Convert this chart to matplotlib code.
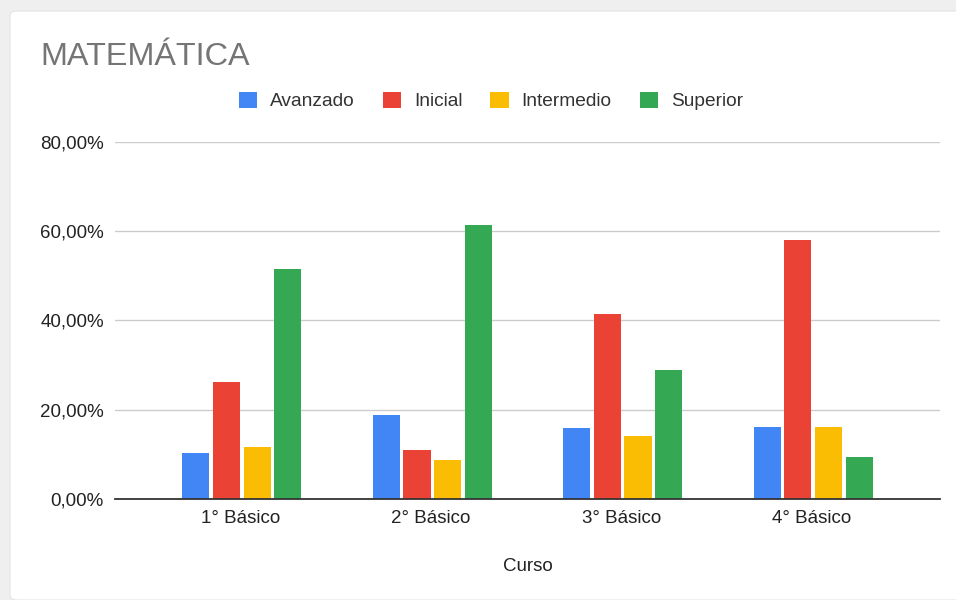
import numpy as np
import matplotlib.pyplot as plt
from matplotlib.patches import FancyBboxPatch
from matplotlib.ticker import FuncFormatter

cursos = ["1° Básico", "2° Básico", "3° Básico", "4° Básico"]
niveles = ["Avanzado", "Inicial", "Intermedio", "Superior"]
avanzado = [10.4, 18.7, 15.9, 16.2]
inicial = [26.3, 10.9, 41.4, 57.9]
intermedio = [11.6, 8.7, 14.0, 16.2]
superior = [51.4, 61.4, 28.8, 9.4]
colores = ["#4285F4", "#EA4335", "#FBBC04", "#34A853"]

plt.rcParams["font.family"] = ["Liberation Sans", "DejaVu Sans"]

W, H = 956, 600
fig = plt.figure(figsize=(W / 100, H / 100), dpi=100, facecolor="#efefef")

# white card behind everything
card = FancyBboxPatch((10 / W, 0), 1.2, 1 - 11 / H, boxstyle="round,pad=0,rounding_size=0.008",
                      transform=fig.transFigure, facecolor="white", edgecolor="#e4e4e4", lw=0.8,
                      zorder=-10)
fig.patches.append(card)

ax = fig.add_axes([115 / W, 1 - 499 / H, (940 - 115) / W, (499 - 141.7) / H])
ax.set_facecolor("none")

x = np.arange(len(cursos))
slot = 30.5 / 190
ancho = 27 / 190
series = [avanzado, inicial, intermedio, superior]
for i, (vals, nombre, c) in enumerate(zip(series, niveles, colores)):
    ax.bar(x + (i - 1.5) * slot + 1.5 / 190, vals, ancho, color=c, label=nombre, zorder=3)

ax.set_ylim(0, 80)
ax.set_xlim(-125 / 190, 3 + 128 / 190)
ax.set_yticks([0, 20, 40, 60, 80])
ax.yaxis.set_major_formatter(FuncFormatter(lambda v, p: f"{v:.2f}%".replace(".", ",")))
ax.set_xticks(x)
ax.set_xticklabels(cursos)
ax.grid(axis="y", color="#cccccc", lw=1, zorder=0)
for s in ["top", "right", "left"]:
    ax.spines[s].set_visible(False)
ax.spines["bottom"].set_color("#333333")
ax.spines["bottom"].set_linewidth(1.3)
ax.spines["bottom"].set_zorder(4)
ax.tick_params(axis="both", length=0, labelsize=13.5, colors="#222222")
ax.tick_params(axis="y", pad=8)
ax.tick_params(axis="x", pad=8)
ax.set_xlabel("Curso", fontsize=13.5, color="#222222", labelpad=22)

fig.text(40 / W, 1 - 57 / H, "MATEMÁTICA", fontsize=23.3, color="#757575", va="center", ha="left")

leg = fig.legend(loc="center", bbox_to_anchor=(491 / W, 1 - 101 / H), ncol=4, frameon=False,
                 fontsize=13.8, handlelength=0.94, handleheight=0.94, handletextpad=0.68,
                 columnspacing=1.46, labelcolor="#333333")

fig.savefig("out.png", dpi=100, facecolor=fig.get_facecolor())
